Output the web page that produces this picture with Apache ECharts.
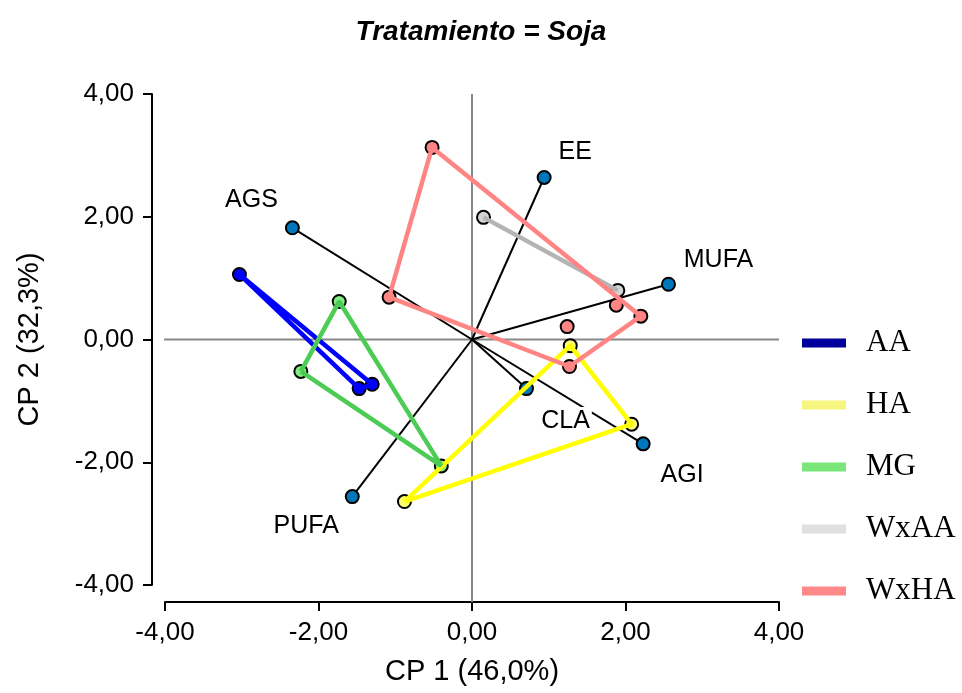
<!DOCTYPE html>
<html>
<head>
<meta charset="utf-8">
<script src="https://cdn.jsdelivr.net/npm/echarts@6/dist/echarts.min.js"></script>
<style>html,body{margin:0;padding:0;background:#fff;}#c{width:962px;height:693px;}</style>
</head>
<body>
<div id="c"></div>
<script>
// ---- data ----
const groupNames = ['AA', 'HA', 'MG', 'WxAA', 'WxHA'];
const AA_x = [-3.03, -1.47, -1.30];
const AA_y = [1.06, -0.80, -0.73];
const HA_x = [1.28, 2.08, -0.88];
const HA_y = [-0.10, -1.38, -2.64];
const MG_x = [-1.73, -2.23, -0.40];
const MG_y = [0.62, -0.52, -2.06];
const WxAA_x = [0.15, 1.90];
const WxAA_y = [1.99, 0.80];
const WxHA_x = [-0.52, -1.08, 1.27, 2.20, 1.88, 1.24];
const WxHA_y = [3.13, 0.69, -0.44, 0.38, 0.56, 0.21];

const varNames = ['EE', 'AGS', 'MUFA', 'CLA', 'AGI', 'PUFA'];
const var_x = [0.94, -2.34, 2.56, 0.71, 2.23, -1.56];
const var_y = [2.64, 1.82, 0.90, -0.80, -1.70, -2.56];

const axisTicks = [-4, -2, 0, 2, 4];
const titleText = 'Tratamiento = Soja';
const xName = 'CP 1 (46,0%)';
const yName = 'CP 2 (32,3%)';

// ---- styles ----
const lineColors = {AA: '#0000ff', HA: '#ffff00', MG: '#4ccc55', WxAA: '#b4b4b4', WxHA: '#ff8585'};
const markerColors = {AA: '#0000ff', HA: '#ffff70', MG: '#80ee80', WxAA: '#d4d4d4', WxHA: '#ff8585'};
const legendColors = {AA: '#00009c', HA: '#f6f680', MG: '#7ae67a', WxAA: '#e0e0e0', WxHA: '#ff8888'};
const labelOffsets = {EE: [31, -25], AGS: [-41, -28], MUFA: [50, -24], CLA: [39, 33], AGI: [39, 31], PUFA: [-46, 29]};
const SANS = '"Liberation Sans", Arial, sans-serif';
const SERIF = '"Liberation Serif", "Times New Roman", serif';

const groups = {
  AA: [AA_x, AA_y], HA: [HA_x, HA_y], MG: [MG_x, MG_y], WxAA: [WxAA_x, WxAA_y], WxHA: [WxHA_x, WxHA_y]
};

function hull(pts) {
  const p = pts.slice().sort((a, b) => a[0] - b[0] || a[1] - b[1]);
  if (p.length < 3) return p;
  const cross = (o, a, b) => (a[0] - o[0]) * (b[1] - o[1]) - (a[1] - o[1]) * (b[0] - o[0]);
  const lower = [], upper = [];
  for (const q of p) { while (lower.length >= 2 && cross(lower[lower.length - 2], lower[lower.length - 1], q) <= 0) lower.pop(); lower.push(q); }
  for (let i = p.length - 1; i >= 0; i--) { const q = p[i]; while (upper.length >= 2 && cross(upper[upper.length - 2], upper[upper.length - 1], q) <= 0) upper.pop(); upper.push(q); }
  upper.pop(); lower.pop();
  return lower.concat(upper);
}

const fmt = v => v.toFixed(2).replace('.', ',');
const series = [];

// reference lines at zero
const xMin = axisTicks[0], xMax = axisTicks[axisTicks.length - 1];
series.push({
  type: 'line', silent: true, clip: false, symbol: 'none', z: 1,
  lineStyle: {color: '#888', width: 2},
  data: [[xMin - 0.17, 0], [xMax, 0]]
});
series.push({
  type: 'line', silent: true, clip: false, symbol: 'none', z: 1,
  lineStyle: {color: '#888', width: 2},
  data: [[0, xMin - 0.28], [0, xMax]]
});

// loading vectors
series.push({
  type: 'lines', coordinateSystem: 'cartesian2d', silent: true, z: 2,
  lineStyle: {color: '#000', width: 2, opacity: 1},
  data: varNames.map((n, i) => ({coords: [[0, 0], [var_x[i], var_y[i]]]}))
});

// group markers
groupNames.forEach(g => {
  const [xs, ys] = groups[g];
  series.push({
    name: g, type: 'scatter', z: 4, symbol: 'circle', symbolSize: 13,
    itemStyle: {color: markerColors[g], borderColor: '#000', borderWidth: 2, opacity: 1},
    data: xs.map((x, i) => [x, ys[i]])
  });
});
// group hulls
groupNames.forEach(g => {
  const [xs, ys] = groups[g];
  const h = hull(xs.map((x, i) => [x, ys[i]]));
  h.push(h[0]);
  series.push({
    name: g, type: 'line', z: 5, symbol: 'none', showSymbol: false,
    lineStyle: {color: lineColors[g], width: 4.5},
    itemStyle: {color: lineColors[g]},
    data: h
  });
});

// loading points with labels
series.push({
  type: 'scatter', z: 3, symbol: 'circle', symbolSize: 13,
  itemStyle: {color: '#0077bb', borderColor: '#000', borderWidth: 2, opacity: 1},
  data: varNames.map((n, i) => ({
    value: [var_x[i], var_y[i]], name: n,
    label: {
      show: true, formatter: n, position: 'inside', offset: labelOffsets[n],
      color: '#000', opacity: 1, textBorderWidth: 0, textBorderColor: 'transparent', fontSize: 25, fontFamily: SANS,
      backgroundColor: n === 'CLA' ? '#fff' : 'transparent', padding: n === 'CLA' ? [2, 2] : 0
    }
  }))
});

const chart = echarts.init(document.getElementById('c'));
chart.setOption({
  animation: false,
  backgroundColor: '#fff',
  title: {
    text: titleText, left: 'center', top: 13,
    textStyle: {fontFamily: SANS, fontSize: 28, fontWeight: 'bold', fontStyle: 'italic', color: '#000'}
  },
  legend: {
    orient: 'vertical', left: 797, top: 322, itemGap: 30, itemWidth: 44, itemHeight: 9, icon: 'rect',
    textStyle: {fontFamily: SERIF, fontSize: 31, color: '#000', padding: [0, 0, 0, 15], lineHeight: 32},
    data: groupNames.map(g => ({name: g, itemStyle: {color: legendColors[g], borderWidth: 0}}))
  },
  grid: {left: 165, right: 183, top: 94, bottom: 108},
  xAxis: {
    type: 'value', min: xMin, max: xMax, interval: 2, offset: 17,
    name: xName, nameLocation: 'middle', nameGap: 55,
    nameTextStyle: {fontFamily: SANS, fontSize: 29, color: '#000'},
    axisLine: {show: true, onZero: false, lineStyle: {color: '#000', width: 2}},
    axisTick: {show: true, length: 9, lineStyle: {color: '#000', width: 2}},
    axisLabel: {formatter: fmt, fontFamily: SANS, fontSize: 26, color: '#000', margin: 18},
    splitLine: {show: false}
  },
  yAxis: {
    type: 'value', min: xMin, max: xMax, interval: 2, offset: 13,
    name: yName, nameLocation: 'middle', nameGap: 108, nameRotate: 90,
    nameTextStyle: {fontFamily: SANS, fontSize: 29, color: '#000'},
    axisLine: {show: true, onZero: false, lineStyle: {color: '#000', width: 2}},
    axisTick: {show: true, length: 9, lineStyle: {color: '#000', width: 2}},
    axisLabel: {formatter: fmt, fontFamily: SANS, fontSize: 26, color: '#000', margin: 18},
    splitLine: {show: false}
  },
  series: series
});
</script>
</body>
</html>
